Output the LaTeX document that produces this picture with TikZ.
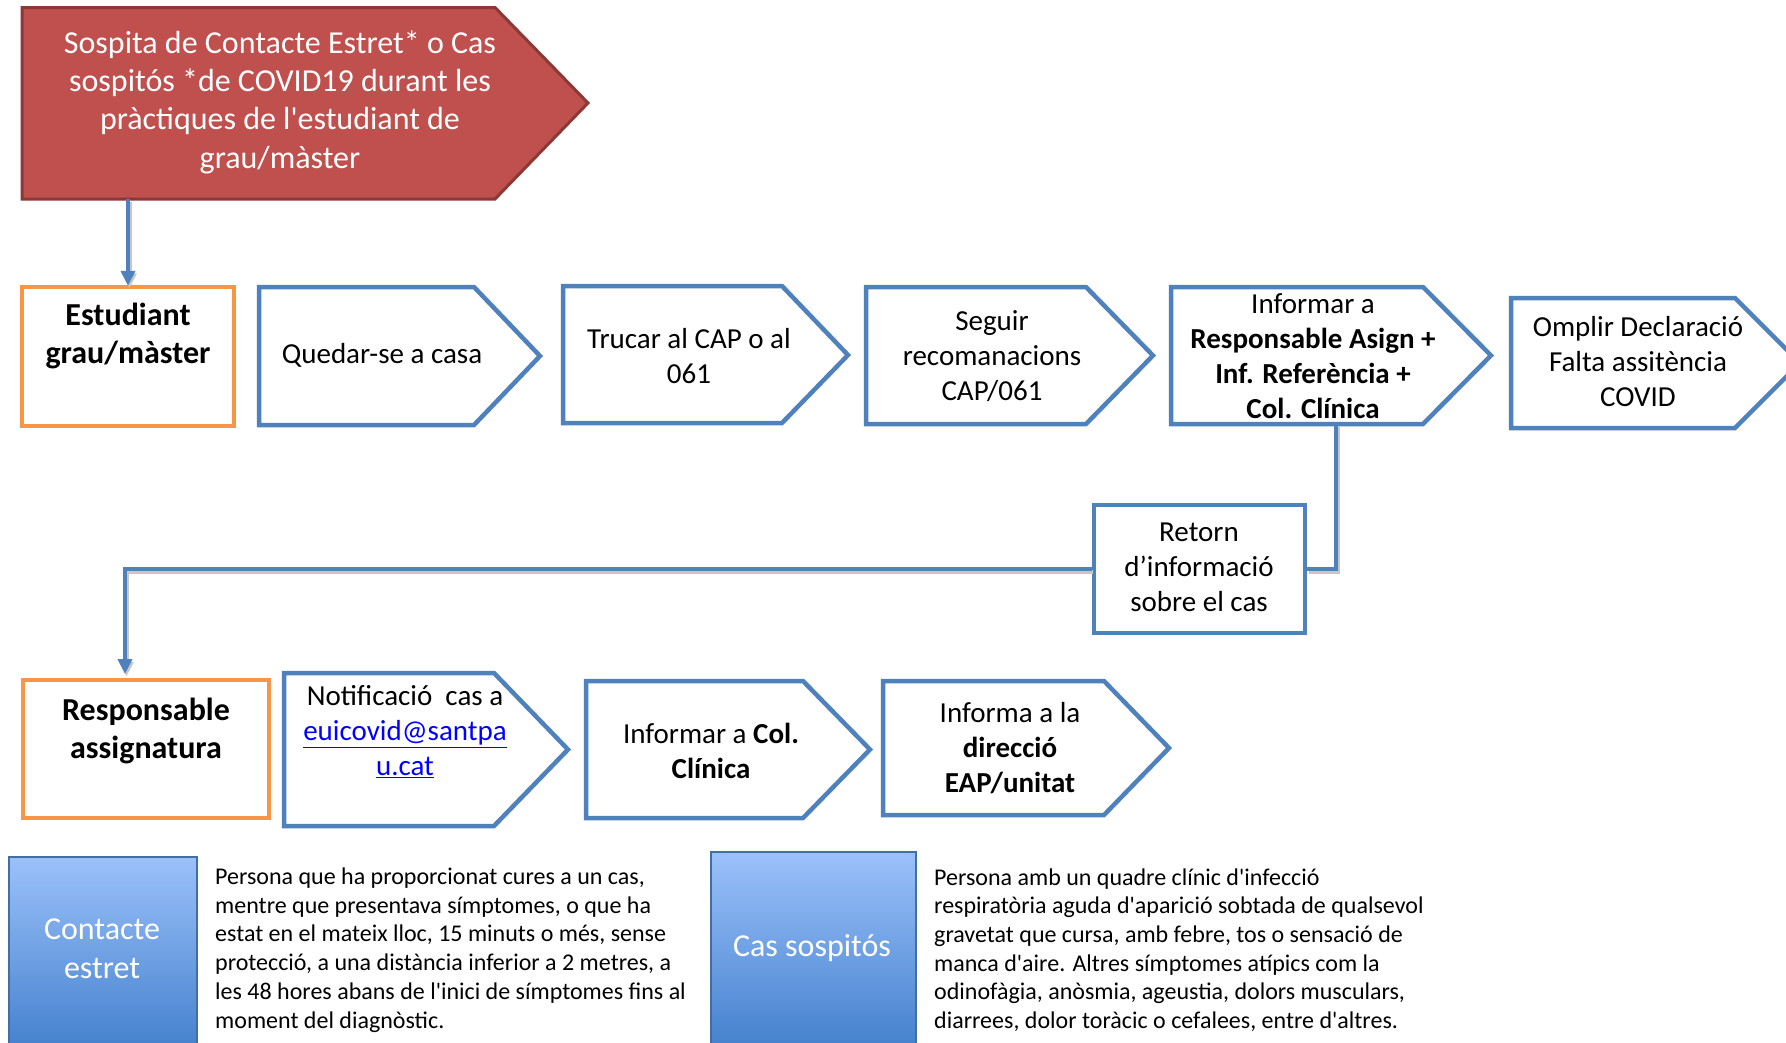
\documentclass[tikz,border=0pt]{standalone}
\usepackage{fontspec}
\setmainfont{Carlito}
\usetikzlibrary{arrows.meta}
\definecolor{bblue}{HTML}{4F81BD}
\definecolor{borange}{HTML}{F79646}
\definecolor{rfill}{HTML}{C0504D}
\definecolor{rdraw}{HTML}{8C3836}
\definecolor{gtop}{HTML}{9BC1FA}
\definecolor{gbot}{HTML}{3F7DCB}
\definecolor{linkblue}{HTML}{0000FF}
\newcommand\ap{\textquotesingle}
\tikzset{
  bluebox/.style={draw=bblue, line width=4.5pt, fill=white, line join=miter},
  orangebox/.style={draw=borange, line width=4.5pt, fill=white, inner sep=0pt},
  redbox/.style={draw=rdraw, line width=3pt, fill=rfill, line join=miter},
  gradbox/.style={draw=bblue!85!black, line width=1.2pt, top color=gtop, bottom color=gbot},
  txt/.style={align=center, inner sep=0pt, font=\fontsize{29}{35}\selectfont},
  btxt/.style={align=center, inner sep=0pt, font=\fontsize{32}{38.7}\selectfont\bfseries},
  wtxt/.style={align=center, inner sep=0pt, text=white, font=\fontsize{32}{38.7}\selectfont},
  ptxt/.style={align=left, inner sep=0pt, font=\fontsize{24}{28.7}\selectfont},
  conn/.style={draw=bblue, line width=4pt, preaction={draw=black!22, line width=4pt, transform canvas={shift={(1.5pt,-2.5pt)}}}},
  tip/.style={-{Triangle[length=15pt,width=14pt]}},
  anch/.style={inner sep=0pt, outer sep=0pt}
}
\begin{document}
\begin{tikzpicture}[x=1pt,y=-1pt]
\useasboundingbox (0,0) rectangle (1786,1042);
\fill[white] (0,0) rectangle (1786,1042);

% red start shape
\draw[redbox] (22,7.5) -- (495,7.5) -- (588,103) -- (495,199) -- (22,199) -- cycle;
\node[anch, minimum width=473, minimum height=191.5] (red) at (258.5,103.25) {};
\node[wtxt, font=\fontsize{32}{38.4}\selectfont] (redtxt) at (280,102) {Sospita de Contacte Estret* o Cas\\sospitós *de COVID19 durant les\\pràctiques de l\ap estudiant de\\grau/màster};

% row 1
\node[orangebox, minimum width=212, minimum height=139] (est) at (128,356.5) {};
\node[btxt] (esttxt) at (128,336) {Estudiant\\grau/màster};

\draw[bluebox] (259,287) -- (474,287) -- (540,356) -- (474,425) -- (259,425) -- cycle;
\node[txt] (quedar) at (382,355) {Quedar-se a casa};

\draw[bluebox] (563,286) -- (782,286) -- (848,355) -- (782,423) -- (563,423) -- cycle;
\node[txt] (trucar) at (689,356) {Trucar al CAP o al\\061};

\draw[bluebox] (866,287) -- (1086,287) -- (1153,355.5) -- (1086,424) -- (866,424) -- cycle;
\node[txt] (seguir) at (992,356) {Seguir\\recomanacions\\CAP/061};

\draw[bluebox] (1171,287) -- (1423,287) -- (1491,355.5) -- (1423,424) -- (1171,424) -- cycle;
\node[anch, minimum width=252, minimum height=137] (inf) at (1297,355.5) {};
\node[txt] (inftxt) at (1313,356) {Informar a\\\textbf{Responsable Asign +}\\\textbf{Inf. Referència +}\\\textbf{Col. Clínica}};

\draw[bluebox] (1511,298) -- (1735,298) -- (1800,363) -- (1735,428) -- (1511,428) -- cycle;
\node[txt] (omplir) at (1638,362) {Omplir Declaració\\Falta assitència\\COVID};

% return box
\node[draw=bblue, line width=4.5pt, fill=white, minimum width=211, minimum height=128, inner sep=0pt] (ret) at (1199.5,569) {};
\node[txt] (rettxt) at (1199,567) {Retorn\\d’informació\\sobre el cas};

% row 2
\node[orangebox, minimum width=246, minimum height=138] (resp) at (146,749) {};
\node[btxt] (resptxt) at (146,731) {Responsable\\assignatura};

\draw[bluebox] (284,673) -- (494,673) -- (568,749.5) -- (494,826) -- (284,826) -- cycle;
\node[txt] (notif) at (405,732) {Notificació\ \ cas a\\\textcolor{linkblue}{\underline{euicovid@santpa}}\\\textcolor{linkblue}{\underline{u.cat}}};

\draw[bluebox] (586,681) -- (803,681) -- (870,749.5) -- (803,818) -- (586,818) -- cycle;
\node[txt] (colc) at (711,751) {Informar a \textbf{Col.}\\\textbf{Clínica}};

\draw[bluebox] (883,681) -- (1104,681) -- (1169,748) -- (1104,815) -- (883,815) -- cycle;
\node[txt] (dir) at (1010,748) {Informa a la\\\textbf{direcció}\\\textbf{EAP/unitat}};

% connectors
\coordinate (c1) at (1336,424);
\coordinate (c2) at (125,674);
\draw[conn, tip] (red.south -| est.north) -- ([yshift=-1pt]est.north);
\draw[conn] (c1) |- (ret.east);
\draw[conn, tip] (ret.west) -| (c2);

% definitions
\draw[gradbox] (9,857) rectangle (197,1060);
\node[wtxt] (cont) at (102,949) {Contacte\\estret};
\node[ptxt, anchor=west] (def1) at (215,950) {Persona que ha proporcionat cures a un cas,\\mentre que presentava símptomes, o que ha\\estat en el mateix lloc, 15 minuts o més, sense\\protecció, a una distància inferior a 2 metres, a\\les 48 hores abans de l\ap inici de símptomes fins al\\moment del diagnòstic.};

\draw[gradbox] (711,852) rectangle (916,1060);
\node[wtxt] (cas) at (812,948) {Cas sospitós};
\node[ptxt, anchor=west] (def2) at (934,950) {Persona amb un quadre clínic d\ap infecció\\respiratòria aguda d\ap aparició sobtada de qualsevol\\gravetat que cursa, amb febre, tos o sensació de\\manca d\ap aire. Altres símptomes atípics com la\\odinofàgia, anòsmia, ageustia, dolors musculars,\\diarrees, dolor toràcic o cefalees, entre d\ap altres.};
\end{tikzpicture}
\end{document}
